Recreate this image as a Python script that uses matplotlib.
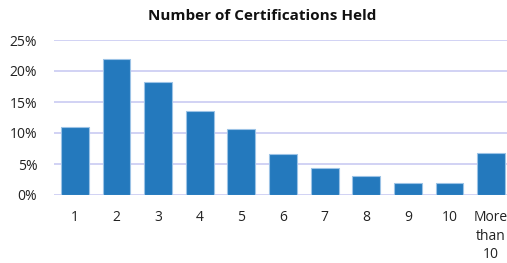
import numpy as np
import matplotlib.pyplot as plt
from matplotlib.ticker import PercentFormatter

plt.rcParams['font.family'] = ['Open Sans', 'DejaVu Sans']

# Data
categories = ['1', '2', '3', '4', '5', '6', '7', '8', '9', '10', 'More\nthan\n10']
percent_held = [11.0, 21.9, 18.2, 13.6, 10.6, 6.6, 4.4, 3.0, 1.9, 1.9, 6.7]
y_ticks = [0, 5, 10, 15, 20, 25]

W, H = 507, 263
fig = plt.figure(figsize=(W / 100, H / 100), dpi=100)
# axis runs slightly past the right edge, like the reference
ax = fig.add_axes([54 / W, 1 - 195 / H, (512 - 54) / W, (195 - 40) / H])

x = np.arange(len(categories))
ax.bar(x, percent_held, width=0.67, color='#2479bd', edgecolor='#9cc3e6',
       linewidth=0.8, zorder=3)

ax.set_xlim(-0.5, len(categories) - 0.5)
ax.set_ylim(0, 25)
ax.set_yticks(y_ticks)
ax.yaxis.set_major_formatter(PercentFormatter(decimals=0))
ax.set_xticks(x)
ax.set_xticklabels(categories, fontsize=10, color='#222222', linespacing=1.3)
ax.tick_params(axis='y', labelsize=10, labelcolor='#222222', length=0, pad=12)
ax.tick_params(axis='x', length=0, pad=11)
ax.grid(axis='y', color='#cacbf2', linewidth=1.2, zorder=0)
for s in ax.spines.values():
    s.set_visible(False)

fig.text(0.518, 1 - 16 / H, 'Number of Certifications Held', ha='center', va='center',
         fontsize=11, fontweight='bold', color='#111111')

fig.savefig('out.png', dpi=100)
